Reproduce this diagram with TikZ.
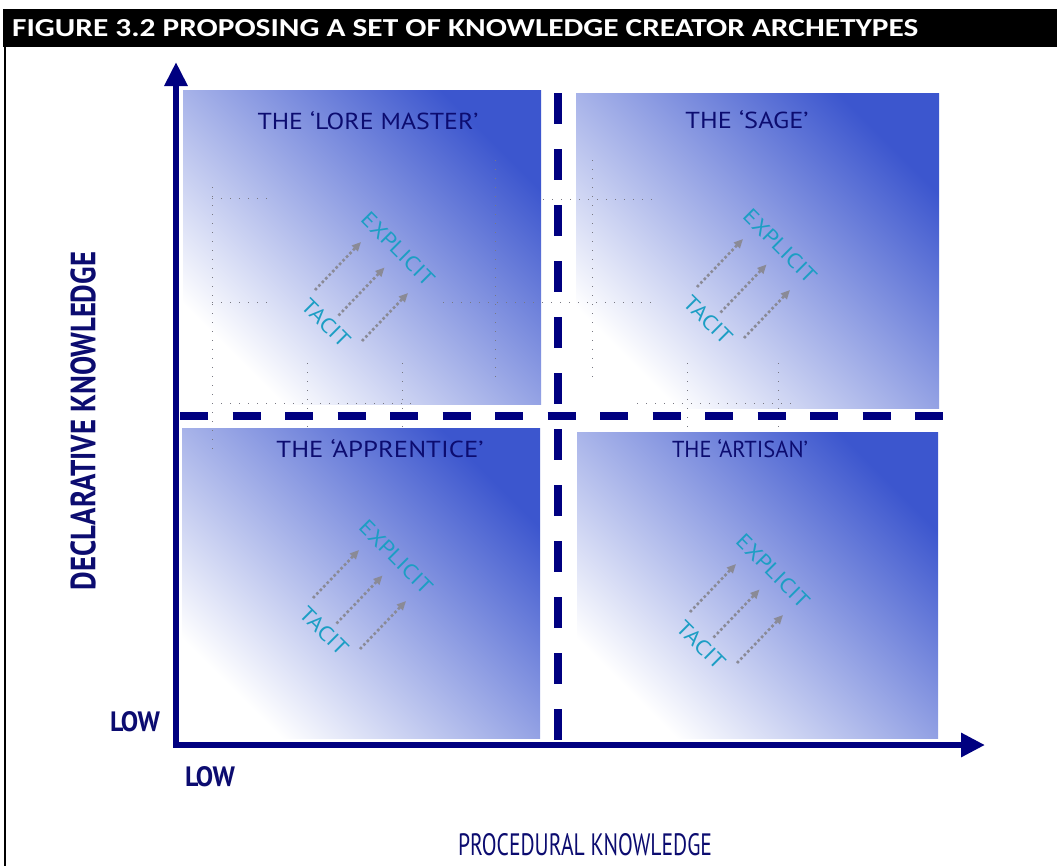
\documentclass[tikz,border=0pt]{standalone}
\usepackage{fontspec}
\setmainfont{PT Sans}
\newfontfamily\titlefont{Carlito}
\newfontfamily\twfont{PT Sans}
\usetikzlibrary{arrows.meta}
\definecolor{navy}{RGB}{0,0,128}
\definecolor{labnavy}{RGB}{12,12,112}
\definecolor{boxblue}{RGB}{60,86,206}
\definecolor{tcyan}{RGB}{28,158,196}
\definecolor{agray}{RGB}{138,138,150}
\definecolor{gridgray}{RGB}{120,120,130}
\newcommand{\kcpattern}[3]{%
  \begin{scope}[shift={(#2,#3)}]
    \foreach \k in {0,1,2}{
      \coordinate (#1-s\k) at ({23.5*\k},{25.5*\k});
      \coordinate (#1-e\k) at ({23.5*\k+46},{25.5*\k-48});
      \draw[garrow] (#1-s\k) -- (#1-e\k);
    }
    \node[kctext] (#1-exp) at (83,-41) {\resizebox{94pt}{15pt}{EXPLICIT}};
    \node[kctext] (#1-tac) at (11,33) {\resizebox{59pt}{15pt}{TACIT}};
  \end{scope}}
\begin{document}
\begin{tikzpicture}[x=1pt,y=-1pt,
  quad/.style={draw=none, inner sep=0pt, anchor=north west,
    bottom color=white, top color=boxblue, shading angle=-45},
  qlabel/.style={text=labnavy, inner sep=0pt, font=\twfont},
  kctext/.style={text=tcyan, inner sep=0pt, rotate=-45, font=\twfont},
  garrow/.style={agray, line width=2.6pt, dash pattern=on 2.6pt off 2.4pt,
    -{Triangle[length=9pt,width=8pt]}},
  axisline/.style={navy, line width=6pt, line join=miter,
    {Triangle[length=24pt,width=22pt]}-{Triangle[length=24pt,width=23pt]}},
  dashline/.style={navy, line width=8pt},
  gridline/.style={gridgray, line width=0.9pt, dash pattern=on 1pt off 8pt},
  frame/.style={black, line width=2pt}
]
\useasboundingbox (0,0) rectangle (1057,865);
\fill[white] (0,0) rectangle (1057,865);

% title bar and frame
\fill[black] (3,9) rectangle (1057,47);
\node[anchor=west, inner sep=0pt, text=white, font=\titlefont\bfseries] (title) at (12,28.5)
  {\resizebox{906pt}{17pt}{FIGURE 3.2 PROPOSING A SET OF KNOWLEDGE CREATOR ARCHETYPES}};
\coordinate (ftop) at (5,47);
\coordinate (fbot) at (5,866);
\draw[frame] (ftop) -- (fbot);

% quadrants
\node[quad, minimum width=358pt, minimum height=314pt] (lore) at (183,90) {};
\node[quad, minimum width=363pt, minimum height=315pt] (sage) at (576,93) {};
\node[quad, minimum width=358pt, minimum height=310pt] (appr) at (182,428) {};
\node[quad, minimum width=361pt, minimum height=306pt] (arti) at (577,432) {};

% faint dotted grid
\coordinate (g1a) at (212,187); \coordinate (g1b) at (212,450);
\draw[gridline] (g1a) -- (g1b);
\coordinate (g2a) at (212,198); \coordinate (g2b) at (272,198);
\draw[gridline] (g2a) -- (g2b);
\coordinate (g3a) at (212,302); \coordinate (g3b) at (272,302);
\draw[gridline] (g3a) -- (g3b);
\coordinate (g4a) at (443,302); \coordinate (g4b) at (652,302);
\draw[gridline] (g4a) -- (g4b);
\coordinate (g5a) at (543,199); \coordinate (g5b) at (652,199);
\draw[gridline] (g5a) -- (g5b);
\coordinate (g6a) at (307,363); \coordinate (g6b) at (307,430);
\draw[gridline] (g6a) -- (g6b);
\coordinate (g7a) at (402,363); \coordinate (g7b) at (402,430);
\draw[gridline] (g7a) -- (g7b);
\coordinate (g8a) at (495,160); \coordinate (g8b) at (495,380);
\draw[gridline] (g8a) -- (g8b);
\coordinate (g9a) at (212,403); \coordinate (g9b) at (417,403);
\draw[gridline] (g9a) -- (g9b);
\coordinate (g10a) at (592,160); \coordinate (g10b) at (592,380);
\draw[gridline] (g10a) -- (g10b);
\coordinate (g11a) at (687,363); \coordinate (g11b) at (687,430);
\draw[gridline] (g11a) -- (g11b);
\coordinate (g12a) at (778,363); \coordinate (g12b) at (778,430);
\draw[gridline] (g12a) -- (g12b);
\coordinate (g13a) at (637,403); \coordinate (g13b) at (793,403);
\draw[gridline] (g13a) -- (g13b);

% dashed dividers
\coordinate (hs) at (180,416); \coordinate (he) at (943,416);
\draw[dashline, dash pattern=on 28pt off 24.5pt] (hs) -- (he);
\coordinate (vs) at (558,93); \coordinate (ve) at (558,740);
\draw[dashline, dash pattern=on 31pt off 25pt] (vs) -- (ve);

% axes
\coordinate (ytip) at (176,62);
\coordinate (xtip) at (985,745);
\draw[axisline] (ytip) |- (xtip);

% quadrant labels
\node[qlabel] (lorelab) at (368,121) {\resizebox{221pt}{18pt}{THE ‘LORE MASTER’}};
\node[qlabel] (sagelab) at (747,120) {\resizebox{123pt}{18pt}{THE ‘SAGE’}};
\node[qlabel] (apprlab) at (380,449) {\resizebox{207pt}{18pt}{THE ‘APPRENTICE’}};
\node[qlabel] (artilab) at (740,449) {\resizebox{136pt}{18pt}{THE ‘ARTISAN’}};

% tacit / explicit patterns
\kcpattern{lp}{315}{290}
\kcpattern{sp}{697}{287}
\kcpattern{ap}{313}{598}
\kcpattern{tp}{690}{612}

% axis labels
\node[qlabel, font=\twfont\bfseries, rotate=90] (ylab) at (83,421)
  {\resizebox{338pt}{25pt}{DECLARATIVE KNOWLEDGE}};
\node[qlabel] (xlab) at (585,845) {\resizebox{254pt}{22pt}{PROCEDURAL KNOWLEDGE}};
\node[qlabel, font=\twfont\bfseries] (lowy) at (135,722) {\resizebox{50pt}{20pt}{LOW}};
\node[qlabel, font=\twfont\bfseries] (lowx) at (210,777) {\resizebox{50pt}{20pt}{LOW}};
\end{tikzpicture}
\end{document}
